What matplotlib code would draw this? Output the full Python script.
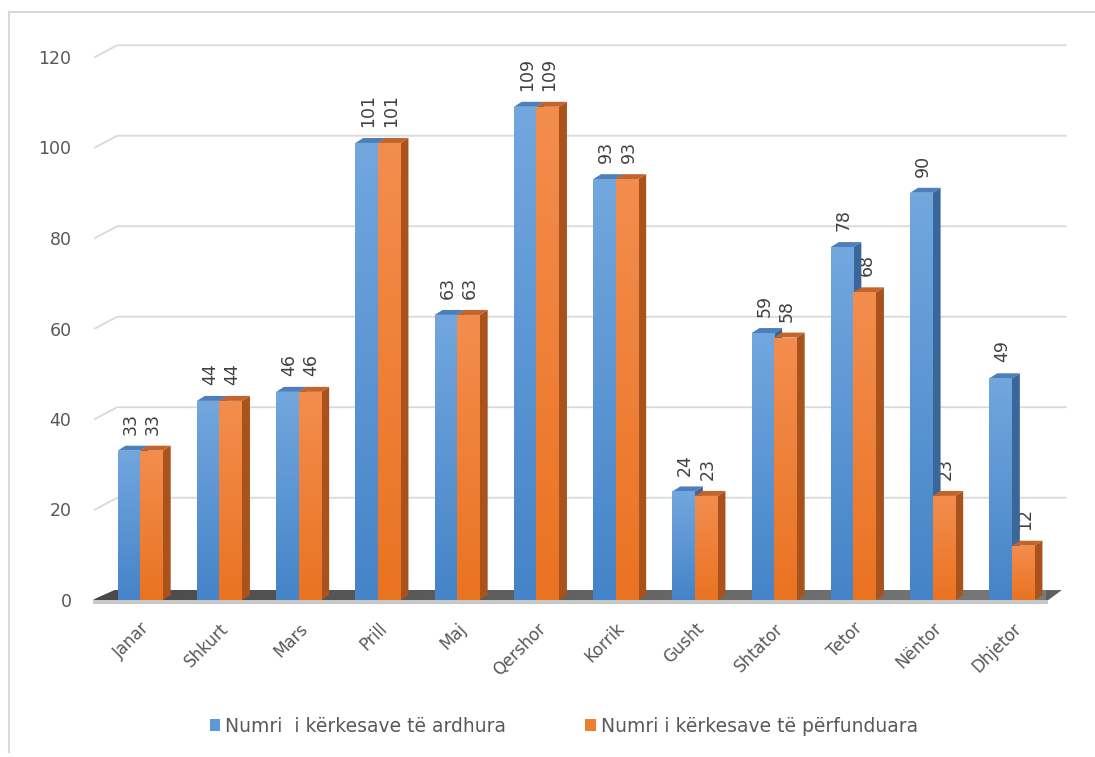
import matplotlib
matplotlib.use("Agg")
import matplotlib.pyplot as plt
from matplotlib.patches import Polygon, Patch
from matplotlib.lines import Line2D
from matplotlib.colors import LinearSegmentedColormap
import numpy as np

months = ["Janar", "Shkurt", "Mars", "Prill", "Maj", "Qershor", "Korrik",
          "Gusht", "Shtator", "Tetor", "Nëntor", "Dhjetor"]
ardhura = [33, 44, 46, 101, 63, 109, 93, 24, 59, 78, 90, 49]
perfunduara = [33, 44, 46, 101, 63, 109, 93, 23, 58, 68, 23, 12]
series_names = ["Numri  i kërkesave të ardhura", "Numri i kërkesave të përfunduara"]
yticks = [0, 20, 40, 60, 80, 100, 120]

W, H = 1095, 757
fig = plt.figure(figsize=(W / 100, H / 100), dpi=100)
fig.patch.set_facecolor("white")

# axes placed so the front plane maps to the reference pixels
xl, xr = -0.57, 11.43
px_l, px_r = 95, 1046
py_0, py_120 = 600, 57
ax = fig.add_axes([px_l / W, (H - py_0) / H, (px_r - px_l) / W, (py_0 - py_120) / H])
ax.set_xlim(xl, xr)
ax.set_ylim(0, 120)
for s in ax.spines.values():
    s.set_visible(False)
ax.set_facecolor("none")

# depth offsets (data units)
gdx, gdy = 0.28, 2.6     # wall / gridline depth
fdx, fdy = 0.25, 2.2     # floor depth
bdx, bdy = 0.10, 1.1     # bar depth
bw = 0.285

# gridlines with perspective stub
for v in yticks[1:]:
    ax.add_line(Line2D([xl, xl + gdx, 11.68], [v, v + gdy, v + gdy],
                       color="#d9d9d9", lw=1.3, zorder=1, clip_on=False))

# floor
floor_cmap = LinearSegmentedColormap.from_list("f", ["#4a4a4a", "#7a7a7a"])
floor = Polygon([(xl - 0.03, 0), (11.46, 0), (11.46 + 0.17, fdy), (xl + fdx, fdy)],
                closed=True, facecolor="#5f5f5f", edgecolor="none", zorder=2, clip_on=False)
ax.add_patch(floor)
fim = ax.imshow(np.linspace(0, 1, 64).reshape(1, -1), extent=[xl - 0.03, 11.7, 0, fdy],
                aspect="auto", cmap=floor_cmap, zorder=2.1, interpolation="bilinear")
fim.set_clip_path(floor)
ax.add_patch(Polygon([(xl - 0.03, 0), (11.46, 0), (11.46, -0.9), (xl - 0.03, -0.9)],
                     closed=True, facecolor="#c8c8c8", edgecolor="none", zorder=2, clip_on=False))

blue_cmap = LinearSegmentedColormap.from_list("b", ["#4584c8", "#72a7de"])
orange_cmap = LinearSegmentedColormap.from_list("o", ["#ea7322", "#f38d4e"])
styles = [
    dict(cmap=blue_cmap, side="#3a6699", top="#4d80ba", color="#5b9bd5"),
    dict(cmap=orange_cmap, side="#a9521b", top="#c3642a", color="#ed7d31"),
]

x = np.arange(len(months))
grad = np.linspace(0, 1, 64).reshape(-1, 1)
z = 5
for i in range(len(months)):
    for k, vals in enumerate([ardhura, perfunduara]):
        st = styles[k]
        v = vals[i]
        x0 = x[i] - bw + k * bw
        x1 = x0 + bw
        # side face
        ax.add_patch(Polygon([(x1, 0), (x1 + bdx, bdy), (x1 + bdx, v + bdy), (x1, v)],
                             closed=True, facecolor=st["side"], edgecolor="none", zorder=z, clip_on=False))
        # top face
        ax.add_patch(Polygon([(x0, v), (x1, v), (x1 + bdx, v + bdy), (x0 + bdx, v + bdy)],
                             closed=True, facecolor=st["top"], edgecolor="none", zorder=z, clip_on=False))
        # front face
        bars = ax.bar([x0], [v], width=bw, align="edge", color=st["color"],
                      edgecolor="none", zorder=z + 0.1)
        im = ax.imshow(grad, extent=[x0, x1, 0, v], origin="lower", aspect="auto",
                       cmap=st["cmap"], zorder=z + 0.2, interpolation="bilinear")
        im.set_clip_path(bars.patches[0])
        # data label
        ax.text(x0 + bw / 2 + 0.02, v + bdy + 2.4, str(v), rotation=90, ha="center", va="bottom",
                fontsize=12.5, color="#404040", zorder=20, family="DejaVu Sans")
        z += 1

ax.set_xlim(xl, xr)
ax.set_ylim(0, 120)

# y ticks
ax.set_yticks(yticks)
ax.set_yticklabels([str(t) for t in yticks], fontsize=12.5, color="#595959")
ax.tick_params(axis="y", length=0, pad=17)

# x ticks
ax.set_xticks(x)
ax.set_xticklabels(months, rotation=45, ha="right", rotation_mode="anchor",
                   fontsize=12, color="#595959")
ax.tick_params(axis="x", length=0, pad=14)

# legend
handles = [Patch(facecolor="#5b9bd5", edgecolor="none"), Patch(facecolor="#ed7d31", edgecolor="none")]
leg = fig.legend(handles, series_names, loc="center", bbox_to_anchor=(0.515, (H - 726) / H),
                 ncol=2, frameon=False, handlelength=0.55, handleheight=0.55, handletextpad=0.3,
                 columnspacing=4.2, prop={"size": 13.5})
for t in leg.get_texts():
    t.set_color("#595959")

# outer chart border (top and left visible)
fig.add_artist(Line2D([9 / W, 1.0], [(H - 12) / H, (H - 12) / H], color="#d9d9d9", lw=1.5,
                      transform=fig.transFigure))
fig.add_artist(Line2D([9 / W, 9 / W], [(H - 12) / H, (H - 752) / H], color="#d9d9d9", lw=1.5,
                      transform=fig.transFigure))

fig.savefig("out.png", dpi=100)
